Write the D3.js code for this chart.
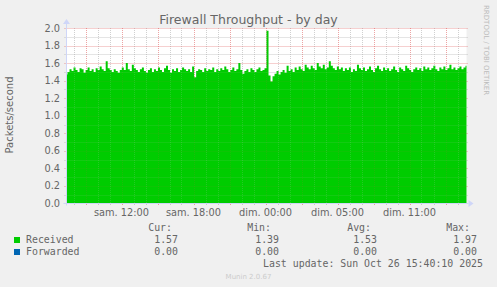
<!DOCTYPE html>
<html>
<head>
<meta charset="utf-8">
<script src="https://cdn.jsdelivr.net/npm/d3@7"></script>
<style>
  body { margin: 0; background: #F0F0F0; }
  svg { display: block; }
</style>
</head>
<body>
<script>
// munin day graph: 400 px for 120000 s
var endTime = Date.UTC(2025, 9, 26, 14, 45, 0);
var startTime = endTime - 120000 * 1000;

// Received packets/second, one sample per 10 min
var received = [
  1.47,1.50,1.53,1.51,1.55,1.52,1.50,1.54,1.53,1.49,1.52,1.55,1.51,1.53,1.50,1.54,1.52,1.56,1.53,1.51,
  1.62,1.54,1.52,1.50,1.53,1.51,1.49,1.52,1.55,1.52,1.60,1.53,1.51,1.58,1.54,1.52,1.50,1.53,1.55,1.51,
  1.49,1.52,1.54,1.50,1.53,1.51,1.55,1.52,1.50,1.54,1.57,1.52,1.49,1.53,1.51,1.54,1.50,1.52,1.55,1.53,
  1.51,1.53,1.50,1.56,1.44,1.51,1.53,1.52,1.50,1.54,1.51,1.53,1.52,1.55,1.50,1.53,1.51,1.54,1.52,1.56,
  1.53,1.50,1.52,1.55,1.51,1.53,1.60,1.52,1.48,1.51,1.53,1.50,1.54,1.52,1.50,1.53,1.55,1.51,1.52,1.54,
  1.97,1.46,1.39,1.45,1.48,1.51,1.47,1.50,1.52,1.49,1.57,1.51,1.53,1.50,1.55,1.52,1.56,1.53,1.51,1.58,
  1.55,1.53,1.57,1.54,1.52,1.60,1.56,1.54,1.58,1.53,1.55,1.62,1.57,1.54,1.52,1.56,1.53,1.55,1.51,1.54,
  1.52,1.55,1.50,1.53,1.51,1.58,1.54,1.52,1.55,1.51,1.53,1.56,1.52,1.50,1.54,1.57,1.53,1.51,1.55,1.52,
  1.54,1.51,1.53,1.56,1.52,1.50,1.55,1.53,1.51,1.57,1.54,1.52,1.50,1.53,1.55,1.52,1.54,1.51,1.56,1.53,
  1.55,1.52,1.54,1.57,1.53,1.51,1.55,1.53,1.56,1.52,1.54,1.58,1.53,1.55,1.52,1.54,1.56,1.53,1.55,1.57
];
var forwarded = received.map(function() { return 0; });

var yTicks = [0.0, 0.2, 0.4, 0.6, 0.8, 1.0, 1.2, 1.4, 1.6, 1.8, 2.0];
var yMinor = [0.1, 0.3, 0.5, 0.7, 0.9, 1.1, 1.3, 1.5, 1.7, 1.9];

var seriesNames = ["Received", "Forwarded"];
var seriesColors = ["#00CC00", "#0066B3"];
var statHeads = ["Cur:", "Min:", "Avg:", "Max:"];
var statValues = [
  ["1.57", "1.39", "1.53", "1.97"],
  ["0.00", "0.00", "0.00", "0.00"]
];
var dayNames = ["dim.", "lun.", "mar.", "mer.", "jeu.", "ven.", "sam."];

var W = 497, H = 287;
var plotL = 66.5, plotR = 466.5, plotT = 28, plotB = 203.5;

var svg = d3.select("body").append("svg")
  .attr("width", W).attr("height", H)
  .style("font-family", "DejaVu Sans, sans-serif");

svg.append("rect").attr("width", W).attr("height", H).attr("fill", "#F0F0F0");

var x = d3.scaleUtc().domain([startTime, endTime]).range([plotL, plotR]);
var y = d3.scaleLinear().domain([0, 2]).range([plotB, plotT]);

var step = (endTime - startTime) / (received.length - 1);
var data = received.map(function(v, i) {
  return { t: startTime + i * step, r: v, f: forwarded[i] };
});

// canvas
svg.append("rect")
  .attr("x", plotL).attr("y", plotT)
  .attr("width", plotR - plotL).attr("height", plotB - plotT)
  .attr("fill", "#FFFFFF");

// local time (Europe/Paris, DST ends 2025-10-26 01:00 UTC)
var dstEnd = Date.UTC(2025, 9, 26, 1, 0, 0);
function localLabel(t) {
  var off = t < dstEnd ? 2 : 1;
  var d = new Date(t + off * 3600000);
  return dayNames[d.getUTCDay()] + " " + d3.utcFormat("%H:%M")(d);
}

var hours = d3.utcHour.range(startTime, endTime);

function drawGrid(gridColor, mgridColor) {
  var g = svg.append("g");
  hours.forEach(function(h) {
    var major = h.getUTCHours() % 3 === 1;
    var xp = Math.round(x(h)) + 0.5;
    g.append("line")
      .attr("x1", xp).attr("x2", xp)
      .attr("y1", plotT).attr("y2", plotB + 2)
      .attr("stroke", major ? mgridColor : gridColor)
      .attr("stroke-dasharray", "1,1");
  });
  yMinor.forEach(function(v) {
    var yp = Math.round(y(v)) + 0.5;
    g.append("line")
      .attr("x1", plotL - 2).attr("x2", plotR + 1)
      .attr("y1", yp).attr("y2", yp)
      .attr("stroke", gridColor)
      .attr("stroke-dasharray", "1,1");
  });
  yTicks.forEach(function(v) {
    if (v === 0) return;
    var yp = Math.round(y(v)) + 0.5;
    g.append("line")
      .attr("x1", plotL - 2).attr("x2", plotR + 2)
      .attr("y1", yp).attr("y2", yp)
      .attr("stroke", mgridColor)
      .attr("stroke-dasharray", "1,1");
  });
}

// grid under the data
drawGrid("rgba(143,143,143,0.4)", "rgba(222,79,79,0.45)");

// received area
svg.append("path")
  .datum(data)
  .attr("fill", seriesColors[0])
  .attr("d", d3.area()
    .curve(d3.curveStep)
    .x(function(d) { return x(d.t); })
    .y0(y(0))
    .y1(function(d) { return y(d.r); }));

// forwarded line (sits on zero)
svg.append("path")
  .datum(data)
  .attr("fill", "none")
  .attr("stroke", seriesColors[1])
  .attr("stroke-width", 1)
  .attr("d", d3.line()
    .x(function(d) { return x(d.t); })
    .y(function(d) { return y(d.f); }));

// faint grid showing through the area
drawGrid("rgba(200,200,200,0.18)", "rgba(222,79,79,0.12)");

// axes with arrows
var axisColor = "#CFD6F8";
svg.append("line")
  .attr("x1", plotL - 3).attr("x2", plotR + 2)
  .attr("y1", plotB).attr("y2", plotB)
  .attr("stroke", axisColor);
svg.append("path")
  .attr("d", "M" + (plotR + 2) + "," + (plotB - 3.5) + "L" + (plotR + 7) + "," + plotB + "L" + (plotR + 2) + "," + (plotB + 3.5) + "Z")
  .attr("fill", axisColor);
svg.append("line")
  .attr("x1", plotL).attr("x2", plotL)
  .attr("y1", plotB + 2).attr("y2", plotT - 4)
  .attr("stroke", axisColor);
svg.append("path")
  .attr("d", "M" + (plotL - 3.5) + "," + (plotT - 4) + "L" + plotL + "," + (plotT - 9) + "L" + (plotL + 3.5) + "," + (plotT - 4) + "Z")
  .attr("fill", axisColor);

var fontColor = "#666666";

// y tick labels
svg.append("g").selectAll("text")
  .data(yTicks)
  .join("text")
  .attr("x", 60)
  .attr("y", function(d) { return y(d) + 3.5; })
  .attr("text-anchor", "end")
  .attr("font-size", 9.8)
  .attr("fill", fontColor)
  .text(function(d) { return d3.format(".1f")(d); });

// x tick labels every 6h
svg.append("g").selectAll("text")
  .data(hours.filter(function(h) { return h.getUTCHours() % 6 === 4; }))
  .join("text")
  .attr("x", function(d) { return x(d); })
  .attr("y", 216)
  .attr("text-anchor", "middle")
  .attr("font-size", 9.8)
  .attr("fill", fontColor)
  .text(function(d) { return localLabel(+d); });

// title
svg.append("text")
  .attr("x", 248.5).attr("y", 24)
  .attr("text-anchor", "middle")
  .attr("font-size", 12.5)
  .attr("fill", fontColor)
  .text("Firewall Throughput - by day");

// y axis title
svg.append("text")
  .attr("transform", "translate(13,115) rotate(-90)")
  .attr("text-anchor", "middle")
  .attr("font-size", 10)
  .attr("fill", fontColor)
  .text("Packets/second");

// rrdtool watermark
svg.append("text")
  .attr("transform", "translate(484,5) rotate(90)")
  .attr("font-size", 7)
  .attr("fill", "#BBBBBB")
  .text("RRDTOOL / TOBI OETIKER");

// legend
var mono = "DejaVu Sans Mono, monospace";
var colRight = [172, 271, 371, 470];
var valRight = [178, 279, 377, 477];

svg.append("g").selectAll("text")
  .data(statHeads)
  .join("text")
  .attr("x", function(d, i) { return colRight[i]; })
  .attr("y", 231)
  .attr("text-anchor", "end")
  .attr("font-family", mono)
  .attr("font-size", 9.9)
  .attr("fill", fontColor)
  .text(function(d) { return d; });

seriesNames.forEach(function(name, r) {
  var yy = 243 + r * 12;
  svg.append("rect")
    .attr("x", 14).attr("y", yy - 6)
    .attr("width", 6).attr("height", 6)
    .attr("fill", seriesColors[r]);
  svg.append("text")
    .attr("x", 26).attr("y", yy)
    .attr("font-family", mono)
    .attr("font-size", 9.9)
    .attr("fill", fontColor)
    .text(name);
  statValues[r].forEach(function(v, c) {
    svg.append("text")
      .attr("x", valRight[c]).attr("y", yy)
      .attr("text-anchor", "end")
      .attr("font-family", mono)
      .attr("font-size", 9.9)
      .attr("fill", fontColor)
      .text(v);
  });
});

svg.append("text")
  .attr("x", 483).attr("y", 267)
  .attr("text-anchor", "end")
  .attr("font-family", mono)
  .attr("font-size", 9.9)
  .attr("fill", fontColor)
  .text("Last update: Sun Oct 26 15:40:10 2025");

svg.append("text")
  .attr("x", 248.5).attr("y", 279)
  .attr("text-anchor", "middle")
  .attr("font-size", 7)
  .attr("fill", "#CCCCCC")
  .text("Munin 2.0.67");
</script>
</body>
</html>
